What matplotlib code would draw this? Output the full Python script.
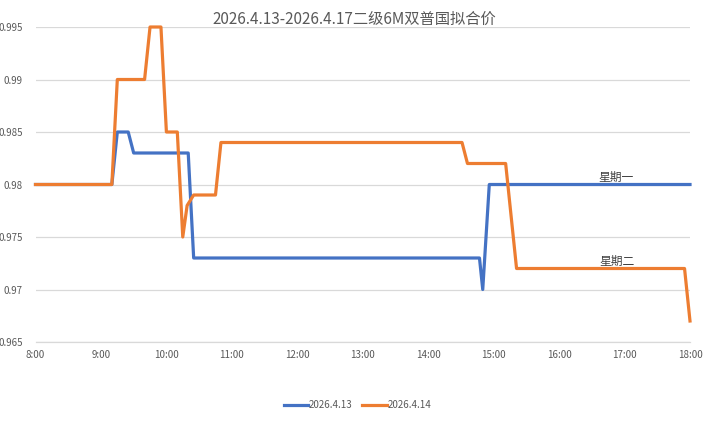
import matplotlib
matplotlib.use("Agg")
import matplotlib.pyplot as plt

plt.rcParams['font.family'] = ['Noto Sans CJK SC', 'DejaVu Sans']

title = "2026.4.13-2026.4.17二级6M双普国拟合价"
series1_name = "2026.4.13"
series2_name = "2026.4.14"

times1 = ["8:00", "9:10", "9:15", "9:25", "9:30", "10:20", "10:25", "14:47", "14:50", "14:56", "18:00"]
vals1 = [0.980, 0.980, 0.985, 0.985, 0.983, 0.983, 0.973, 0.973, 0.970, 0.980, 0.980]

times2 = ["8:00", "9:10", "9:15", "9:40", "9:45", "9:55", "10:00", "10:10", "10:15", "10:19", "10:25",
          "10:45", "10:50", "14:31", "14:36", "15:11", "15:21", "17:55", "18:00"]
vals2 = [0.980, 0.980, 0.990, 0.990, 0.995, 0.995, 0.985, 0.985, 0.975, 0.978, 0.979,
         0.979, 0.984, 0.984, 0.982, 0.982, 0.972, 0.972, 0.967]

xtick_labels = ["8:00", "9:00", "10:00", "11:00", "12:00", "13:00", "14:00", "15:00", "16:00", "17:00", "18:00"]
ytick_vals = [0.965, 0.97, 0.975, 0.98, 0.985, 0.99, 0.995]
ytick_labels = ["0.965", "0.97", "0.975", "0.98", "0.985", "0.99", "0.995"]

label1 = ("星期一", "16:52", 0.9807)
label2 = ("星期二", "16:53", 0.9727)


def to_h(t):
    h, m = t.split(":")
    return int(h) + int(m) / 60.0


x1 = [to_h(t) for t in times1]
x2 = [to_h(t) for t in times2]

fig = plt.figure(figsize=(7.08, 4.21), dpi=100)
ax = fig.add_axes([35.5 / 708, 1 - 342 / 421, (690 - 35.5) / 708, (342 - 27) / 421])

blue = "#4472C4"
orange = "#ED7D31"
ax.plot(x1, vals1, color=blue, lw=2.3, label=series1_name, solid_joinstyle='round', clip_on=False)
ax.plot(x2, vals2, color=orange, lw=2.3, label=series2_name, solid_joinstyle='round', clip_on=False)

ax.set_xlim(8, 18)
ax.set_ylim(0.965, 0.995)
ax.set_xticks([to_h(t) for t in xtick_labels])
ax.set_xticklabels(xtick_labels)
ax.set_yticks(ytick_vals)
ax.set_yticklabels(ytick_labels)
ax.tick_params(axis='both', length=0, labelsize=7, colors="#595959")
ax.tick_params(axis='x', pad=6)
ax.tick_params(axis='y', pad=9)
ax.grid(axis='y', color="#D9D9D9", lw=0.9)
ax.set_axisbelow(True)
for s in ["top", "right", "left"]:
    ax.spines[s].set_visible(False)
ax.spines["bottom"].set_color("#D9D9D9")
ax.spines["bottom"].set_linewidth(0.9)

for txt, t, v in (label1, label2):
    ax.text(to_h(t), v, txt, fontsize=8.5, color="#404040", ha="center", va="center")

fig.text(0.5, 0.955, title, ha="center", va="center", fontsize=11, color="#595959")

leg = fig.legend(loc="center", bbox_to_anchor=(0.505, 0.038), ncol=2, frameon=False,
                 fontsize=7, handlelength=2.5, handletextpad=0.1, columnspacing=1.0)
for t in leg.get_texts():
    t.set_color("#595959")

fig.savefig("out.png", dpi=100)
